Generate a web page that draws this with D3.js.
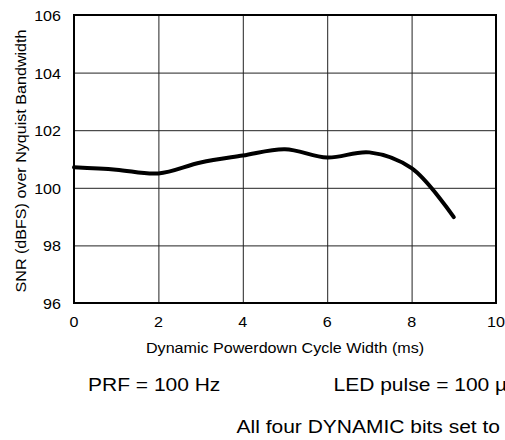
<!DOCTYPE html>
<html>
<head>
<meta charset="utf-8">
<script src="https://cdn.jsdelivr.net/npm/d3@7"></script>
<style>
  html, body { margin: 0; padding: 0; background: #fff; }
  svg { display: block; }
  text { font-family: "Liberation Sans", Arial, sans-serif; fill: #000; }
</style>
</head>
<body>
<svg id="chart" width="505" height="440"></svg>
<script>
// ---- data ----
const cycleWidth = [0, 1, 2, 3, 4, 5, 6, 7, 8, 9];
const snrValues = [100.71, 100.63, 100.50, 100.88, 101.12, 101.34, 101.05, 101.23, 100.68, 98.98];
const xTicks = [0, 2, 4, 6, 8, 10];
const yTicks = [96, 98, 100, 102, 104, 106];
const xTitle = "Dynamic Powerdown Cycle Width (ms)";
const yTitle = "SNR (dBFS) over Nyquist Bandwidth";
const notes = ["PRF = 100 Hz", "LED pulse = 100 µs", "All four DYNAMIC bits set to 1"];

// ---- layout ----
const plotL = 74, plotR = 496, plotT = 15, plotB = 303;
const SX = 1.15;  // horizontal stretch of the original typeface
const SXN = 1.2;  // stretch for the large notes

const svg = d3.select("#chart");
const x = d3.scaleLinear().domain([0, 10]).range([plotL, plotR]);
const y = d3.scaleLinear().domain([96, 106]).range([plotB, plotT]);

// gridlines via axes
const gx = svg.append("g").attr("transform", `translate(0,${plotB})`)
  .call(d3.axisBottom(x).tickValues(xTicks).tickSize(-(plotB - plotT)).tickFormat(""));
const gy = svg.append("g").attr("transform", `translate(${plotL},0)`)
  .call(d3.axisLeft(y).tickValues(yTicks).tickSize(-(plotR - plotL)).tickFormat(""));
[gx, gy].forEach(g => {
  g.select(".domain").remove();
  g.selectAll("line").attr("stroke", "#222").attr("stroke-width", 1);
});

// frame
svg.append("rect")
  .attr("x", plotL).attr("y", plotT)
  .attr("width", plotR - plotL).attr("height", plotB - plotT)
  .attr("fill", "none").attr("stroke", "#000").attr("stroke-width", 2);

// line
const line = d3.line()
  .x((d, i) => x(cycleWidth[i]))
  .y(d => y(d))
  .curve(d3.curveCatmullRom.alpha(0.5));
svg.append("path")
  .datum(snrValues)
  .attr("d", line)
  .attr("fill", "none")
  .attr("stroke", "#000")
  .attr("stroke-width", 4)
  .attr("stroke-linecap", "round")
  .attr("stroke-linejoin", "round");

function stretchedText(tx, ty, str, size, anchor, rotate, sx) {
  return svg.append("text")
    .attr("transform", `translate(${tx},${ty})` + (rotate ? ` rotate(${rotate})` : "") + ` scale(${sx || SX},1)`)
    .attr("text-anchor", anchor)
    .style("font-size", size + "px")
    .text(str);
}

// y tick labels
yTicks.forEach(v => stretchedText(61, y(v) + 6, String(v), 14, "end"));
// x tick labels
xTicks.forEach(v => stretchedText(x(v), 327, String(v), 14, "middle"));

// axis titles
stretchedText((plotL + plotR) / 2, 353, xTitle, 14, "middle");
stretchedText(26, (plotT + plotB) / 2 + 2, yTitle, 14, "middle", -90);

// notes
stretchedText(88, 391, notes[0], 17.5, "start", 0, SXN);
stretchedText(333.5, 391, notes[1], 17.5, "start", 0, SXN);
stretchedText(236.5, 433, notes[2], 17.5, "start", 0, SXN);
</script>
</body>
</html>
